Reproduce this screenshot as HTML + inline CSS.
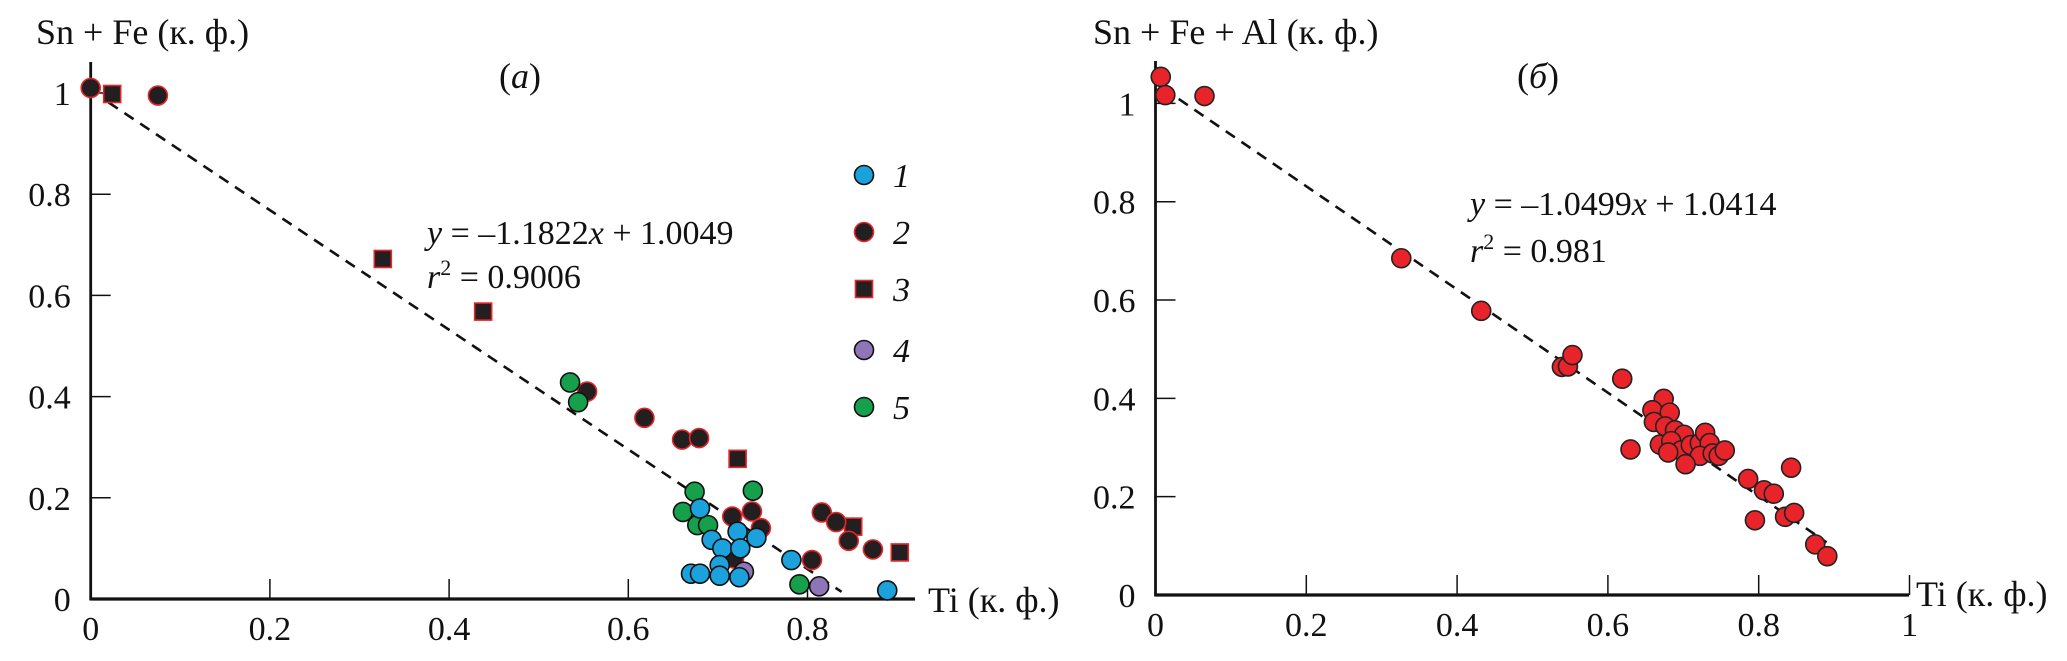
<!DOCTYPE html>
<html><head><meta charset="utf-8"><style>
html,body{margin:0;padding:0;background:#fff;}
svg{display:block;}
svg text{font-family:"Liberation Serif","Times New Roman","DejaVu Serif",serif;}
</style></head><body>
<svg id="chart" width="2067" height="661" viewBox="0 0 2067 661" font-family="Liberation Serif, Times New Roman, serif">
<g id="pa"></g>
<g id="pb"></g>
</svg>
<script>
// Panel (a) data
const xTicksA = [0, 0.2, 0.4, 0.6, 0.8];
const xTickLabelsA = ["0", "0.2", "0.4", "0.6", "0.8"];
const yTicksA = [0, 0.2, 0.4, 0.6, 0.8, 1];
const yTickLabelsA = ["0", "0.2", "0.4", "0.6", "0.8", "1"];
const s1x = [0.68,0.693,0.705,0.722,0.725,0.743,0.702,0.67,0.68,0.702,0.724,0.782,0.889];
const s1y = [0.179,0.117,0.10,0.133,0.10,0.121,0.067,0.05,0.05,0.046,0.043,0.077,0.017];
const s2x = [0.0,0.075,0.554,0.618,0.66,0.679,0.716,0.738,0.748,0.718,0.805,0.816,0.832,0.846,0.873];
const s2y = [1.01,0.995,0.41,0.358,0.315,0.318,0.163,0.173,0.14,0.08,0.077,0.171,0.152,0.115,0.098];
const s3x = [0.024,0.326,0.438,0.722,0.851,0.903];
const s3y = [0.998,0.672,0.568,0.277,0.143,0.092];
const s4x = [0.729,0.813];
const s4y = [0.054,0.025];
const s5x = [0.535,0.544,0.674,0.739,0.661,0.677,0.689,0.791];
const s5y = [0.428,0.389,0.212,0.214,0.172,0.146,0.146,0.029];
const fitA = [-1.1822, 1.0049];
const fitRangeA = [0.02, 0.838];
// Panel (b) data
const xTicksB = [0, 0.2, 0.4, 0.6, 0.8, 1];
const xTickLabelsB = ["0", "0.2", "0.4", "0.6", "0.8", "1"];
const yTicksB = [0, 0.2, 0.4, 0.6, 0.8, 1];
const yTickLabelsB = ["0", "0.2", "0.4", "0.6", "0.8", "1"];
const bx = [0.007,0.013,0.065,0.326,0.432,0.539,0.547,0.553,0.619,0.63,0.674,0.659,0.682,0.661,0.676,0.689,0.701,0.669,0.684,0.697,0.680,0.71,0.722,0.729,0.735,0.722,0.739,0.747,0.755,0.703,0.786,0.807,0.82,0.843,0.795,0.835,0.847,0.875,0.891];
const by = [1.054,1.017,1.015,0.685,0.578,0.464,0.465,0.488,0.44,0.296,0.399,0.376,0.371,0.352,0.343,0.335,0.326,0.306,0.313,0.294,0.29,0.305,0.309,0.33,0.309,0.283,0.288,0.283,0.294,0.266,0.236,0.213,0.206,0.259,0.152,0.159,0.167,0.103,0.079];
const fitB = [-1.0499, 1.0414];
const fitRangeB = [0.01, 0.89];

const NS = "http://www.w3.org/2000/svg";
const FONT = '"Liberation Serif", "Times New Roman", serif';
function mk(parent, tag, attrs, text){
  const e = document.createElementNS(NS, tag);
  for (const k in attrs) e.setAttribute(k, attrs[k]);
  if (tag === "text") e.setAttribute("font-family", FONT);
  if (text !== undefined) e.textContent = text;
  parent.appendChild(e);
  return e;
}
const RED = "#e2262a";

function axes(g, X, Y, x0, y0, xEnd, yTop, xt, xtl, yt, ytl){
  const xa = mk(g, "line", {x1:x0, y1:y0, x2:xEnd, y2:y0, stroke:"#111", "stroke-width":3.2});
  
  
  const ya = mk(g, "line", {x1:x0, y1:y0+1.5, x2:x0, y2:yTop, stroke:"#111", "stroke-width":2.8});
  
  
  xt.forEach((v,i)=>{
    if (v !== 0) {
      const t = mk(g, "line", {x1:X(v), y1:y0, x2:X(v), y2:y0-20, stroke:"#111", "stroke-width":1.5});
      
      
    }
    const l = mk(g, "text", {x:X(v), y:y0+41, "font-size":34, "text-anchor":"middle", fill:"#111"}, xtl[i]);
    
    
  });
  yt.forEach((v,i)=>{
    if (v !== 0) {
      const t = mk(g, "line", {x1:x0, y1:Y(v), x2:x0+20, y2:Y(v), stroke:"#111", "stroke-width":1.5});
      
      
    }
    const l = mk(g, "text", {x:x0-20, y:Y(v)+12, "font-size":34, "text-anchor":"end", fill:"#111"}, ytl[i]);
    
    
  });
}
function fitLine(g, X, Y, fit, rng){
  const l = mk(g, "line", {x1:X(rng[0]), y1:Y(fit[0]*rng[0]+fit[1]), x2:X(rng[1]), y2:Y(fit[0]*rng[1]+fit[1]), stroke:"#111", "stroke-width":2.6, "stroke-dasharray":"11,8"});
  
  
}
function circles(g, X, Y, xs, ys, fill, stroke, name, r){
  xs.forEach((v,i)=>{
    const c = mk(g, "circle", {cx:X(v), cy:Y(ys[i]), r:r, fill:fill, stroke:stroke, "stroke-width":1.6});
    
    
  });
}
function squares(g, X, Y, xs, ys, name){
  xs.forEach((v,i)=>{
    const s = mk(g, "rect", {x:X(v)-8.5, y:Y(ys[i])-8.5, width:17, height:17, fill:"#231f20", stroke:RED, "stroke-width":1.6});
    
    
  });
}

// ---- Panel a
const ga = document.getElementById("pa");
const XA = v => 90.7 + v*896;
const YA = v => 599 - v*506;
axes(ga, XA, YA, 90.7, 599, 915, 62, xTicksA, xTickLabelsA, yTicksA, yTickLabelsA);
fitLine(ga, XA, YA, fitA, fitRangeA);
squares(ga, XA, YA, s3x, s3y, 'point-series-3');
circles(ga, XA, YA, s2x, s2y, "#231f20", RED, 'point-series-2', 9.5);
circles(ga, XA, YA, s4x, s4y, "#8e75b8", "#111", 'point-series-4', 9.5);
circles(ga, XA, YA, s5x, s5y, "#16a04c", "#111", 'point-series-5', 9.5);
circles(ga, XA, YA, s1x, s1y, "#1ba1db", "#111", 'point-series-1', 9.5);
// legend
const legendFill = ["#1ba1db","#231f20","#231f20","#8e75b8","#16a04c"];
const legendLab = ["1","2","3","4","5"];
const legendY = [175,232,289,350,407];
legendLab.forEach((t,i)=>{
  let m;
  if (i===2) m = mk(ga, "rect", {x:855.5, y:legendY[i]-8.5, width:17, height:17, fill:legendFill[i], stroke:RED, "stroke-width":1.6});
  else m = mk(ga, "circle", {cx:864, cy:legendY[i], r:9.5, fill:legendFill[i], stroke:(i===1?RED:"#111"), "stroke-width":1.6});
  
  
  const l = mk(ga, "text", {x:893, y:legendY[i]+12, "font-size":34, "font-style":"italic", fill:"#111"}, t);
  
  
});
</script>
<script>
(function(){
const ga = document.getElementById("pa");
const t1 = mk(ga, "text", {x:36, y:44, "font-size":36, fill:"#111"}, "Sn + Fe (к. ф.)");


const t2 = mk(ga, "text", {x:928, y:612, "font-size":36, fill:"#111"}, "Ti (к. ф.)");


const t3 = mk(ga, "text", {x:520, y:88, "font-size":36, "text-anchor":"middle", fill:"#111"});
t3.innerHTML = '(<tspan font-style="italic">a</tspan>)';


const e1 = mk(ga, "text", {x:427, y:244, "font-size":34, fill:"#111"});
e1.innerHTML = '<tspan font-style="italic">y</tspan> = –1.1822<tspan font-style="italic">x</tspan> + 1.0049';


const e2 = mk(ga, "text", {x:427, y:288, "font-size":34, fill:"#111"});
e2.innerHTML = '<tspan font-style="italic">r</tspan><tspan font-size="22" dy="-13">2</tspan><tspan dy="13"> = 0.9006</tspan>';



// ---- Panel b
const gb = document.getElementById("pb");
const XB = v => 1155.5 + v*754;
const YB = v => 595 - v*491.6;
axes(gb, XB, YB, 1155.5, 595, 1909, 61, xTicksB, xTickLabelsB, yTicksB, yTickLabelsB);
fitLine(gb, XB, YB, fitB, fitRangeB);
circles(gb, XB, YB, bx, by, "#e8242a", "#222", 'point', 9.5);
const u1 = mk(gb, "text", {x:1093, y:44, "font-size":36, fill:"#111"}, "Sn + Fe + Al (к. ф.)");


const u2 = mk(gb, "text", {x:1916, y:606, "font-size":36, fill:"#111"}, "Ti (к. ф.)");


const u3 = mk(gb, "text", {x:1538, y:88, "font-size":36, "text-anchor":"middle", fill:"#111"});
u3.innerHTML = '(<tspan font-style="italic">б</tspan>)';


const f1 = mk(gb, "text", {x:1470, y:215, "font-size":34, fill:"#111"});
f1.innerHTML = '<tspan font-style="italic">y</tspan> = –1.0499<tspan font-style="italic">x</tspan> + 1.0414';


const f2 = mk(gb, "text", {x:1470, y:262, "font-size":34, fill:"#111"});
f2.innerHTML = '<tspan font-style="italic">r</tspan><tspan font-size="22" dy="-13">2</tspan><tspan dy="13"> = 0.981</tspan>';


})();
</script>
</body></html>
